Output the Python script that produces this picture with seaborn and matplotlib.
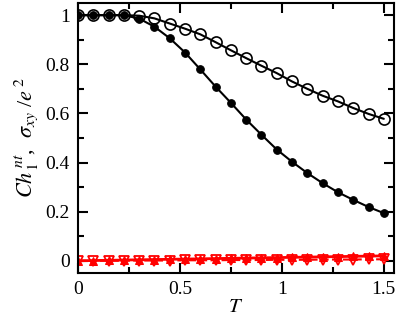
import pandas as pd
import matplotlib
matplotlib.use("Agg")
import matplotlib.pyplot as plt
import seaborn as sns
from matplotlib.ticker import MultipleLocator

T = [0, 0.075, 0.15, 0.225, 0.3, 0.375, 0.45, 0.525, 0.6, 0.675, 0.75,
     0.825, 0.9, 0.975, 1.05, 1.125, 1.2, 1.275, 1.35, 1.425, 1.5]

# sigma_xy / e^2 (open circles)
sigma_xy = [1.0, 1.0, 1.0, 1.0, 0.998, 0.987, 0.966, 0.945, 0.922, 0.890, 0.857,
            0.825, 0.794, 0.764, 0.730, 0.700, 0.672, 0.649, 0.622, 0.598, 0.578]

# Ch_1^nt (filled circles)
ch_nt = [1.0, 1.0, 1.0, 1.0, 0.986, 0.953, 0.906, 0.848, 0.779, 0.709, 0.643,
         0.575, 0.513, 0.453, 0.403, 0.357, 0.316, 0.279, 0.248, 0.219, 0.194]

# red series near zero
red_up = [0.0, 0.001, 0.002, 0.003, 0.004, 0.005, 0.006, 0.007, 0.008, 0.009, 0.010,
          0.011, 0.012, 0.013, 0.014, 0.015, 0.016, 0.017, 0.018, 0.019, 0.020]
red_down = [0.0, 0.0, 0.0, 0.0, 0.001, 0.001, 0.001, 0.002, 0.002, 0.002, 0.003,
            0.003, 0.003, 0.004, 0.004, 0.004, 0.005, 0.005, 0.005, 0.006, 0.006]

df = pd.DataFrame({"T": T, "sigma": sigma_xy, "ch": ch_nt,
                   "red_up": red_up, "red_down": red_down})

sns.set_style("ticks", {"axes.edgecolor": "black", "text.color": "black",
                        "xtick.color": "black", "ytick.color": "black",
                        "axes.labelcolor": "black"})
plt.rcParams["font.family"] = ["Liberation Serif", "DejaVu Serif"]
plt.rcParams["mathtext.fontset"] = "stix"

fig = plt.figure(figsize=(3.99, 3.22), dpi=100)
ax = fig.add_axes([0.1955, 0.152, 0.792, 0.839])

# red curves
sns.lineplot(x="T", y="red_down", data=df, ax=ax, color="red", lw=1.5,
             ls="--", marker="v", markersize=6.5, mfc="white", mec="red", mew=1.3)
sns.lineplot(x="T", y="red_up", data=df, ax=ax, color="red", lw=2,
             marker="^", markersize=5.5, mfc="red", mec="red")
# black curves
sns.lineplot(x="T", y="sigma", data=df, ax=ax, color="black", lw=1.5,
             marker="o", markersize=8, mfc="none", mec="black", mew=1.2)
sns.lineplot(x="T", y="ch", data=df, ax=ax, color="black", lw=1.5,
             marker="o", markersize=5.5, mfc="black", mec="black")

ax.set_xlim(0, 1.55)
ax.set_ylim(-0.05, 1.05)
ax.xaxis.set_major_locator(MultipleLocator(0.5))
ax.xaxis.set_minor_locator(MultipleLocator(0.25))
ax.yaxis.set_major_locator(MultipleLocator(0.2))
ax.yaxis.set_minor_locator(MultipleLocator(0.1))
ax.xaxis.set_major_formatter(plt.FuncFormatter(lambda v, p: f"{v:g}"))
ax.yaxis.set_major_formatter(plt.FuncFormatter(lambda v, p: f"{v:g}"))
ax.tick_params(which="both", direction="in", top=True, right=True, width=1.5,
               labelsize=14)
ax.tick_params(which="major", length=7, pad=6)
ax.tick_params(which="minor", length=4)
for s in ax.spines.values():
    s.set_linewidth(1.5)

ax.set_xlabel("$T$", fontsize=15, labelpad=0)
ax.set_ylabel(r"$Ch^{\,nt}_{\,1}$,  $\sigma_{xy}$ /$e^{\,2}$", fontsize=16, labelpad=4)

fig.savefig("out.png", dpi=100)
